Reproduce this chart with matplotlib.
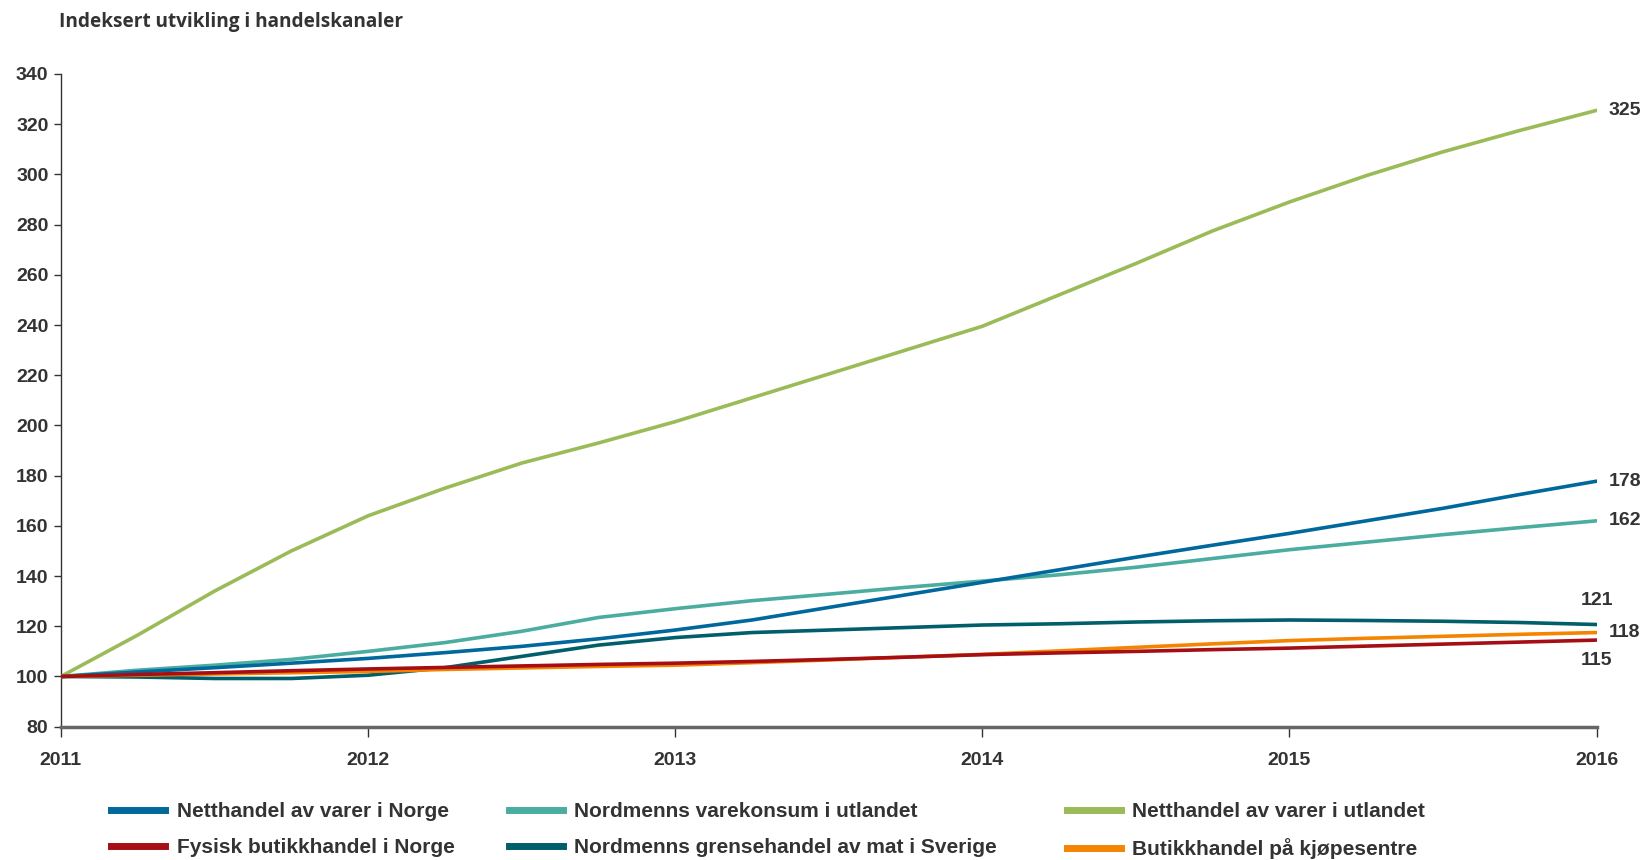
import matplotlib
matplotlib.use("Agg")
import matplotlib.pyplot as plt
from matplotlib.lines import Line2D
from matplotlib import font_manager

# quarterly index values, 2011 = 100
years = [2011 + q / 4 for q in range(21)]
netthandel_norge = [100, 101.8, 103.5, 105.3, 107.2, 109.5, 112, 115, 118.5, 122.5, 127.5,
                    132.5, 137.5, 142.5, 147.5, 152.3, 157, 162, 167, 172.5, 177.8]
varekonsum_utland = [100, 102.5, 104.5, 106.8, 110, 113.5, 118, 123.5, 127, 130.2, 132.8,
                     135.5, 138, 140.5, 143.5, 147, 150.5, 153.5, 156.5, 159.3, 162]
netthandel_utland = [100, 116.5, 134, 150, 164, 175, 185, 193, 201.5, 211, 220.5,
                     230, 239.5, 252, 264.5, 277.5, 289, 299.5, 309, 317.5, 325.5]
fysisk_norge = [100, 100.8, 101.5, 102.3, 103, 103.6, 104.2, 104.8, 105.3, 106, 106.8,
                107.7, 108.7, 109.4, 110, 110.7, 111.3, 112.1, 112.9, 113.7, 114.5]
grensehandel = [100, 99.8, 99.2, 99.2, 100.5, 103.5, 108, 112.5, 115.5, 117.5, 118.5,
                119.5, 120.5, 121, 121.7, 122.2, 122.5, 122.3, 122, 121.5, 120.7]
kjopesentre = [100, 100.5, 101, 101.5, 102, 102.8, 103.4, 104, 104.5, 105.5, 106.6,
               107.7, 108.8, 110.2, 111.6, 113, 114.3, 115.2, 116, 116.8, 117.5]

series_names = ["Netthandel av varer i Norge", "Nordmenns varekonsum i utlandet",
                "Netthandel av varer i utlandet", "Fysisk butikkhandel i Norge",
                "Nordmenns grensehandel av mat i Sverige", "Butikkhandel på kjøpesentre"]
end_labels = ["178", "162", "325", "115", "121", "118"]

colors = ["#00689C", "#4BADA0", "#9BBB59", "#A50E14", "#005F6B", "#F58400"]

names = [f.name for f in font_manager.fontManager.ttflist]
narrow = "Liberation Sans Narrow" if "Liberation Sans Narrow" in names else "Liberation Sans"
plt.rcParams["font.family"] = [narrow, "DejaVu Sans"]
txt = "#333333"

fig = plt.figure(figsize=(16.46, 8.6), dpi=100)
ax = fig.add_axes([0.037, 0.155, 0.933, 0.759])

data = [netthandel_norge, varekonsum_utland, netthandel_utland,
        fysisk_norge, grensehandel, kjopesentre]
order = [2, 1, 0, 4, 5, 3]
for i in order:
    ax.plot(years, data[i], color=colors[i], lw=2.6, solid_capstyle="round", zorder=3)

# end labels
last = years[-1]
ax.text(last + 0.04, data[0][-1], end_labels[0], va="center", ha="left", fontsize=14, fontweight="bold", color=txt)
ax.text(last + 0.04, data[1][-1], end_labels[1], va="center", ha="left", fontsize=14, fontweight="bold", color=txt)
ax.text(last + 0.04, data[2][-1], end_labels[2], va="center", ha="left", fontsize=14, fontweight="bold", color=txt)
ax.text(last, data[3][-1] - 8, end_labels[3], va="center", ha="center", fontsize=14, fontweight="bold", color=txt)
ax.text(last, data[4][-1] + 9.5, end_labels[4], va="center", ha="center", fontsize=14, fontweight="bold", color=txt)
ax.text(last + 0.04, data[5][-1], end_labels[5], va="center", ha="left", fontsize=14, fontweight="bold", color=txt)

ax.set_xlim(2011, 2016)
ax.set_ylim(80, 340)
ax.set_yticks(range(80, 341, 20))
ax.set_xticks(range(2011, 2017))
ax.tick_params(axis="y", direction="out", length=5, width=1, color="#333333",
               labelsize=14, labelcolor=txt, pad=4)
ax.tick_params(axis="x", direction="out", length=7, width=1, color="#333333",
               labelsize=14, labelcolor=txt, pad=11)
for lab in ax.get_xticklabels() + ax.get_yticklabels():
    lab.set_fontweight("bold")
ax.spines["top"].set_visible(False)
ax.spines["right"].set_visible(False)
ax.spines["left"].set_color("#333333")
ax.spines["left"].set_linewidth(1)
ax.spines["bottom"].set_color("#666666")
ax.spines["bottom"].set_linewidth(2.5)
ax.spines["bottom"].set_zorder(4)

fig.text(0.036, 0.975, "Indeksert utvikling i handelskanaler", fontsize=13.7, fontweight="bold",
         color=txt, family=["Open Sans", "DejaVu Sans"], va="center", ha="left")

# legend in three columns placed by hand
col_x = [0.0675, 0.309, 0.648]
for c in range(3):
    hs = [Line2D([0], [0], color=colors[c + 3 * r], lw=5) for r in range(2)]
    ls = [series_names[c + 3 * r] for r in range(2)]
    leg = fig.legend(hs, ls, loc="upper left", bbox_to_anchor=(col_x[c], 0.067),
                     frameon=False, handlelength=2.6, handletextpad=0.55,
                     labelspacing=0.82, borderaxespad=0, borderpad=0,
                     prop={"size": 15, "weight": "bold"})
    for t in leg.get_texts():
        t.set_color(txt)

fig.savefig("out.png", dpi=100)
